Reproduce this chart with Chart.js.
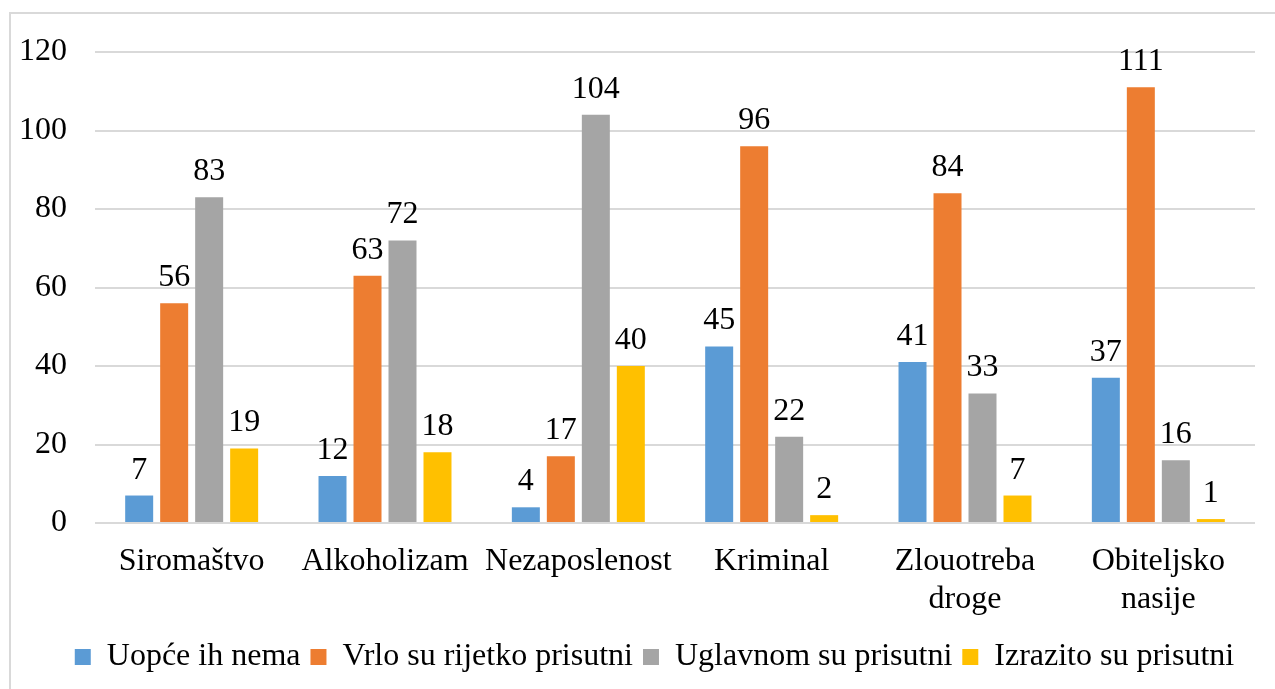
<!DOCTYPE html>
<html>
<head>
<meta charset="utf-8">
<script src="https://cdn.jsdelivr.net/npm/chart.js@4"></script>
<style>
  html, body { margin:0; padding:0; background:#fff; overflow:hidden; }
  #frame { position:absolute; left:9px; top:12px; width:1400px; height:1000px;
           border-left:2px solid #d9d9d9; border-top:2px solid #d9d9d9; }
  #wrap { position:absolute; left:0; top:0; width:1275px; height:689px; }
</style>
</head>
<body>
<div id="frame"></div>
<div id="wrap"><canvas id="chartProblemi" width="1275" height="689"></canvas></div>
<script>
const categories = ["Siromaštvo", "Alkoholizam", "Nezaposlenost", "Kriminal", ["Zlouotreba", "droge"], ["Obiteljsko", "nasije"]];
const seriesNames = ["Uopće ih nema", "Vrlo su rijetko prisutni", "Uglavnom su prisutni", "Izrazito su prisutni"];
const uopceNema = [7, 12, 4, 45, 41, 37];
const vrloRijetko = [56, 63, 17, 96, 84, 111];
const uglavnom = [83, 72, 104, 22, 33, 16];
const izrazito = [19, 18, 40, 2, 7, 1];
const yTicks = [0, 20, 40, 60, 80, 100, 120];

const colors = ["#5b9bd5", "#ed7d31", "#a5a5a5", "#ffc000"];
const serif = "'Liberation Serif', 'Times New Roman', serif";
Chart.defaults.font.family = serif;

// value labels above bars
const barLabels = {
  id: "barLabels",
  afterLayout(chart){
    // legend in the original sits a bit right of the canvas centre
    chart.legend.left += 27;
    chart.legend.right += 27;
  },
  afterDatasetsDraw(chart){
    const ctx = chart.ctx;
    ctx.save();
    ctx.font = "32px " + serif;
    ctx.fillStyle = "#000";
    ctx.textAlign = "center";
    ctx.textBaseline = "alphabetic";
    chart.data.datasets.forEach((ds, i) => {
      chart.getDatasetMeta(i).data.forEach((bar, j) => {
        ctx.fillText(String(ds.data[j]), bar.x, bar.y - 17);
      });
    });
    ctx.restore();
  }
};

const allSeries = [uopceNema, vrloRijetko, uglavnom, izrazito];

new Chart(document.getElementById("chartProblemi"), {
  type: "bar",
  data: {
    labels: categories,
    datasets: allSeries.map((vals, i) => ({
      label: seriesNames[i],
      data: vals,
      backgroundColor: colors[i],
      borderWidth: 0,
      categoryPercentage: 0.724,
      barPercentage: 0.8
    }))
  },
  options: {
    responsive: false,
    animation: false,
    devicePixelRatio: 1,
    layout: { padding: { left: 0, top: 52, right: 20, bottom: 6 } },
    plugins: {
      tooltip: { enabled: false },
      legend: {
        position: "bottom",
        labels: {
          font: { family: serif, size: 32 },
          color: "#000",
          boxWidth: 16,
          boxHeight: 16,
          padding: 10
        }
      }
    },
    scales: {
      x: {
        grid: { display: false },
        border: { display: false },
        ticks: {
          font: { family: serif, size: 32, lineHeight: 1.2 },
          color: "#000",
          padding: 11,
          maxRotation: 0,
          autoSkip: false
        },
        afterFit(scale){ scale.height = 108; }
      },
      y: {
        min: 0,
        max: 120,
        afterBuildTicks(scale){ scale.ticks = yTicks.map(v => ({ value: v })); },
        grid: { color: "#d9d9d9", lineWidth: 2, drawTicks: false },
        border: { display: false },
        ticks: {
          font: { family: serif, size: 32 },
          color: "#000",
          padding: 28
        },
        afterFit(scale){ scale.width = 95; }
      }
    }
  },
  plugins: [barLabels]
});
</script>
</body>
</html>
